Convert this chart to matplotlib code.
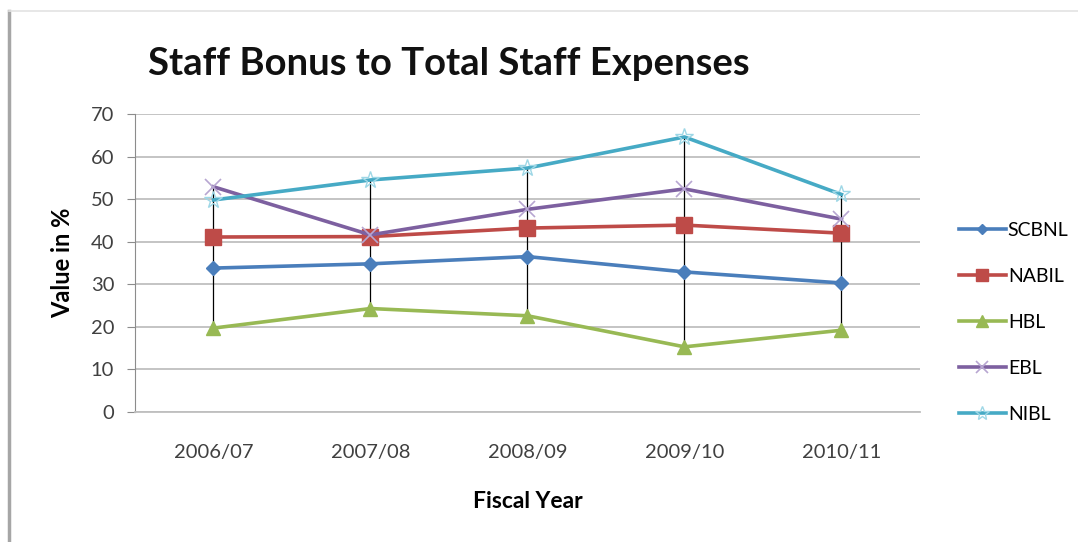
#!/usr/bin/env python3
"""Staff bonus share of total staff expenses, by bank and fiscal year."""

import numpy as np
import matplotlib
matplotlib.use('Agg')
import matplotlib.pyplot as plt
from matplotlib.lines import Line2D

years = ['2006/07', '2007/08', '2008/09', '2009/10', '2010/11']
banks = ['SCBNL', 'NABIL', 'HBL', 'EBL', 'NIBL']

scbnl = [33.8, 34.8, 36.5, 32.9, 30.3]
nabil = [41.1, 41.2, 43.2, 43.9, 42.0]
hbl = [19.7, 24.3, 22.6, 15.3, 19.2]
ebl = [52.9, 41.6, 47.6, 52.4, 45.3]
nibl = [49.8, 54.5, 57.3, 64.6, 51.1]

plt.rcParams['font.family'] = ['Lato', 'DejaVu Sans']

fig = plt.figure(figsize=(10.78, 5.42), dpi=100)
fig.patch.set_facecolor('white')
ax = fig.add_axes([0.1252, 0.2399, 0.7282, 0.5498])

x = np.arange(len(years))
series = [scbnl, nabil, hbl, ebl, nibl]

# high-low lines between the top and bottom series at each year
values = np.array(series)
ax.vlines(x, values.min(axis=0), values.max(axis=0), color='black', lw=0.9, zorder=2)

styles = [
    dict(color='#4A7EBB', marker='D', ms=7, mfc='#4A7EBB', mec='#4A7EBB'),
    dict(color='#BE4B48', marker='s', ms=11, mfc='#BE4B48', mec='#BE4B48'),
    dict(color='#98B954', marker='^', ms=10, mfc='#98B954', mec='#98B954'),
    dict(color='#7D60A0', marker='x', ms=11, mfc='none', mec='#B7A6D1', mew=1.2),
    dict(color='#46AAC5', marker='*', ms=13, mfc='none', mec='#9ED7E6', mew=1.0),
]
for name, vals, st in zip(banks, series, styles):
    ax.plot(x, vals, lw=2.6, label=name, zorder=3, **st)

ax.set_xlim(-0.5, len(years) - 0.5)
ax.set_ylim(0, 70)
ax.set_yticks(range(0, 71, 10))
ax.set_xticks(x)
ax.set_xticklabels(years)
ax.yaxis.grid(True, color='#BFBFBF', lw=1.3)
ax.set_axisbelow(True)

for side in ['top', 'right']:
    ax.spines[side].set_visible(False)
ax.spines['left'].set_color('#8C8C8C')
ax.spines['bottom'].set_color('#BFBFBF')
ax.spines['bottom'].set_linewidth(1.3)
ax.tick_params(axis='y', length=6, color='#8C8C8C', labelsize=14.5,
               labelcolor='#404040', pad=9)
ax.tick_params(axis='x', length=0, labelsize=14.5, labelcolor='#404040', pad=23)

ax.set_ylabel('Value in %', fontsize=17, fontweight='bold', labelpad=12)
ax.set_xlabel('Fiscal Year', fontsize=16.5, fontweight='bold', labelpad=22)

fig.text(0.137, 0.882, 'Staff Bonus to Total Staff Expenses', fontsize=27.5,
         fontweight='bold', va='center', ha='left', color='#111111')

ax.legend(loc='upper left', bbox_to_anchor=(1.04, 0.665), frameon=False,
          fontsize=14, labelspacing=1.5, handlelength=2.4,
          handletextpad=0.1, borderaxespad=0, markerscale=0.8)

# outer chart border
fig.add_artist(Line2D([0.0083, 0.0083], [0.0, 0.979], transform=fig.transFigure,
                      color='#A6A6A6', lw=2.5))
fig.add_artist(Line2D([0.0083, 1.0], [0.979, 0.979], transform=fig.transFigure,
                      color='#E3E3E3', lw=1.2))

fig.savefig('out.png', dpi=100)
